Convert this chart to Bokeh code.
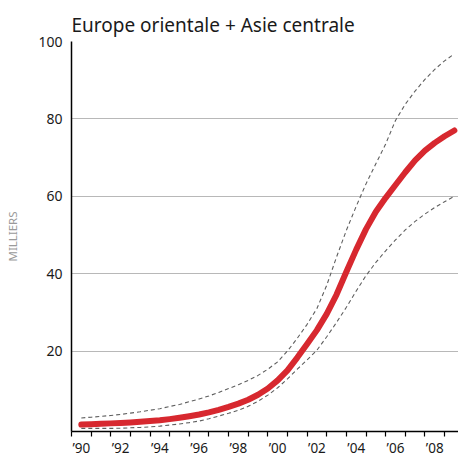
from bokeh.plotting import figure
from bokeh.models import FixedTicker, Range1d
from bokeh.embed import file_html
from bokeh.resources import INLINE

# ---- data (half-year steps) ----
years = [1990.0, 1990.5, 1991.0, 1991.5, 1992.0, 1992.5, 1993.0, 1993.5,
         1994.0, 1994.5, 1995.0, 1995.5, 1996.0, 1996.5, 1997.0, 1997.5,
         1998.0, 1998.5, 1999.0, 1999.5, 2000.0, 2000.5, 2001.0, 2001.5,
         2002.0, 2002.5, 2003.0, 2003.5, 2004.0, 2004.5, 2005.0, 2005.5,
         2006.0, 2006.5, 2007.0, 2007.5, 2008.0, 2008.5, 2009.0]
central = [1.0, 1.1, 1.2, 1.3, 1.4, 1.55, 1.7, 1.9,
           2.1, 2.4, 2.75, 3.15, 3.6, 4.15, 4.8, 5.55,
           6.4, 7.4, 8.7, 10.3, 12.4, 15.0, 18.3, 21.8,
           25.4, 29.6, 34.6, 40.5, 46.2, 51.5, 56.0, 59.6,
           62.9, 66.2, 69.3, 71.8, 73.8, 75.5, 77.0]
upper = [2.7, 2.9, 3.1, 3.35, 3.6, 3.95, 4.3, 4.7,
         5.1, 5.65, 6.2, 6.9, 7.6, 8.4, 9.3, 10.3,
         11.3, 12.4, 13.7, 15.3, 17.2, 20.0, 23.3, 26.9,
         31.0, 37.0, 44.3, 51.2, 57.4, 63.2, 68.4, 73.5,
         79.6, 83.8, 87.2, 90.2, 92.8, 95.0, 96.8]
lower = [0.0, 0.0, 0.0, 0.0, 0.05, 0.15, 0.25, 0.4,
         0.6, 0.85, 1.15, 1.5, 1.9, 2.5, 3.2, 3.9,
         4.7, 5.7, 7.0, 8.6, 10.5, 12.8, 15.3, 17.7,
         20.2, 23.7, 27.4, 31.3, 35.5, 39.5, 42.9, 45.9,
         48.7, 51.3, 53.5, 55.4, 57.1, 58.6, 60.0]

label_years = [1990, 1992, 1994, 1996, 1998, 2000, 2002, 2004, 2006, 2008]
year_labels = ["\u201990", "\u201992", "\u201994", "\u201996", "\u201998",
               "\u201900", "\u201902", "\u201904", "\u201906", "\u201908"]
tick_years = list(range(1990, 2010))
y_ticks = [20, 40, 60, 80, 100]

title_text = "Europe orientale + Asie centrale"
y_label = "MILLIERS"

FONT = "Noto Sans"

p = figure(frame_width=387, frame_height=390,
           output_backend="svg", toolbar_location=None,
           x_range=Range1d(1989.5, 2009.21), y_range=Range1d(-0.8, 100),
           min_border_left=71, min_border_right=0, min_border_top=41,
           min_border_bottom=0)

p.title.text = title_text
p.title.text_font = FONT
p.title.text_font_size = "19px"
p.title.text_font_style = "normal"
p.title.text_color = "#1a1a1a"
p.title.align = "left"
p.title.offset = 0
p.title.standoff = 7

p.outline_line_color = None
p.background_fill_color = "white"
p.border_fill_color = "white"

# grid
p.xgrid.visible = False
p.ygrid.ticker = FixedTicker(ticks=y_ticks)
p.ygrid.grid_line_color = "#b8b8b8"
p.ygrid.grid_line_width = 1

# x axis: labels centred on the years, ticks on the year boundaries
xa = p.xaxis[0]
xa.ticker = FixedTicker(ticks=label_years,
                        minor_ticks=[y - 0.5 for y in tick_years])
xa.major_label_overrides = {y: l for y, l in zip(label_years, year_labels)}
xa.major_tick_out = 0
xa.major_tick_in = 0
xa.minor_tick_out = 5
xa.minor_tick_in = 0
xa.minor_tick_line_color = "black"
xa.minor_tick_line_width = 1.2
xa.axis_line_color = "black"
xa.axis_line_width = 1.5
xa.major_label_text_font = FONT
xa.major_label_text_font_size = "13.5px"
xa.major_label_text_color = "#1a1a1a"
xa.major_label_standoff = 2

# y axis
ya = p.yaxis[0]
ya.ticker = FixedTicker(ticks=y_ticks)
ya.major_tick_out = 0
ya.major_tick_in = 0
ya.minor_tick_out = 0
ya.minor_tick_in = 0
ya.axis_line_color = "black"
ya.axis_line_width = 1.5
ya.major_label_text_font = FONT
ya.major_label_text_font_size = "14px"
ya.major_label_text_color = "#1a1a1a"
ya.major_label_standoff = 9
ya.axis_label = y_label
ya.axis_label_text_font = FONT
ya.axis_label_text_font_size = "11.5px"
ya.axis_label_text_font_style = "normal"
ya.axis_label_text_color = "#9a9a9a"
ya.axis_label_standoff = 15

# lines
p.line(years, upper, line_color="#5f5f5f", line_width=1.1, line_dash="4 3")
p.line(years, lower, line_color="#5f5f5f", line_width=1.1, line_dash="4 3")
p.line(years, central, line_color="#d7282f", line_width=6, line_cap="round",
       line_join="round")

open("out.html", "w").write(file_html(p, INLINE))
